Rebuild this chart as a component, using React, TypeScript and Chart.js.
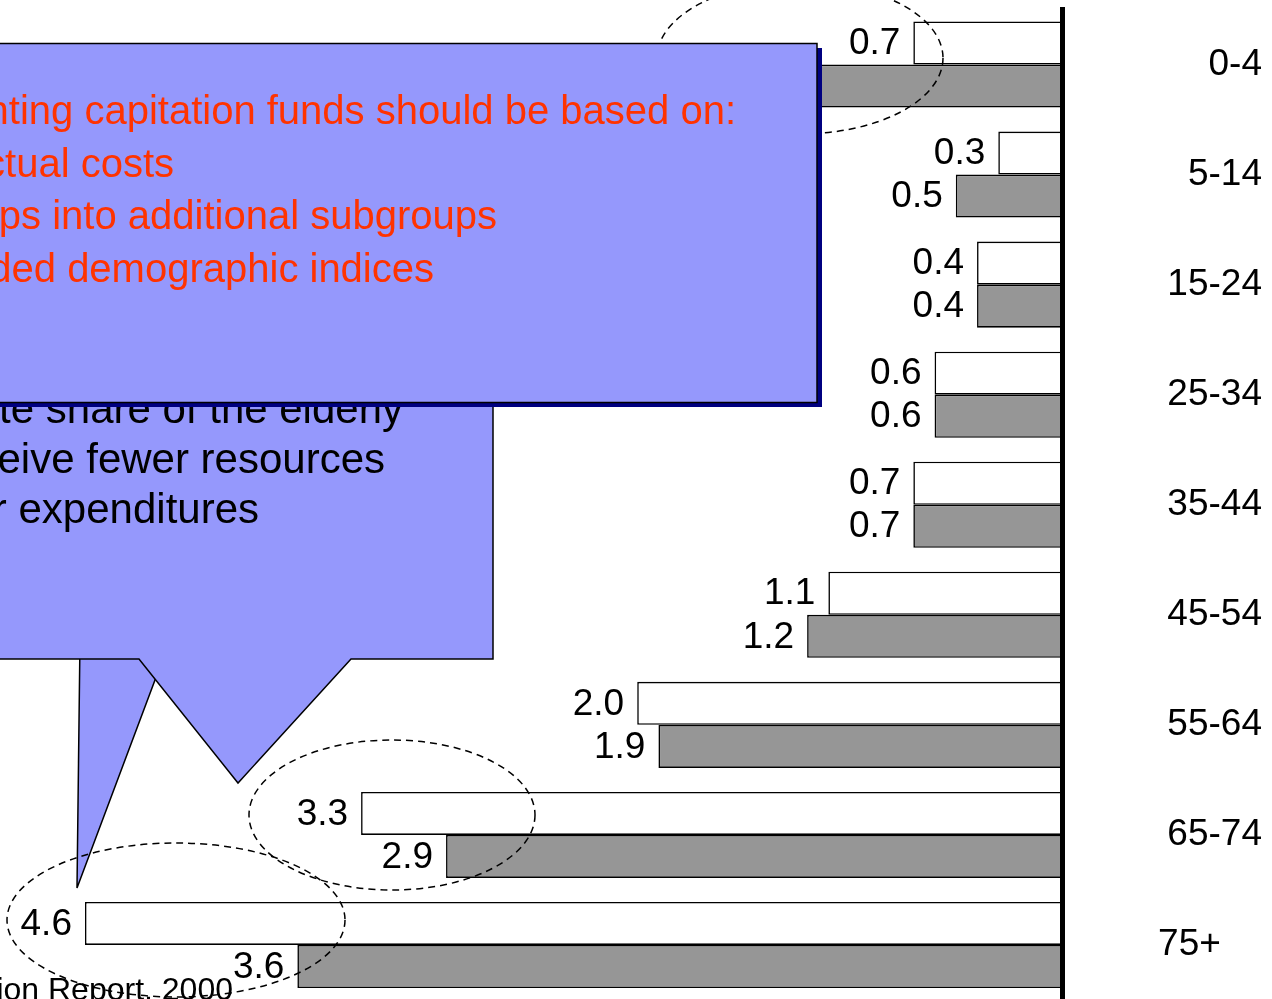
import React, { useEffect, useRef } from 'react';
import { Chart, registerables } from 'chart.js';

Chart.register(...registerables);

// ---- data ----
const categories = ['0-4', '5-14', '15-24', '25-34', '35-44', '45-54', '55-64', '65-74', '75+    '];
const populationShare = [0.7, 0.3, 0.4, 0.6, 0.7, 1.1, 2.0, 3.3, 4.6];
const expenditureShare = [1.4, 0.5, 0.4, 0.6, 0.7, 1.2, 1.9, 2.9, 3.6];
const valueMax = 5;

const redLines = [
  'Granting capitation funds should be based on:',
  '\u2022 actual costs',
  '\u2022 dividing age groups into additional subgroups',
  '\u2022 expanded demographic indices',
];
const blackLines = [
  'Regions with a disproportionate share of the elderly',
  'receive fewer resources',
  'relative to their expenditures',
];
const sourceText = 'Source: Health Insurance Fund Administration Report, 2000';

const FAMILY = "'Liberation Sans', Arial, sans-serif";
const LAV = '#9598FC';

const valueLabels = {
  id: 'valueLabels',
  afterDatasetsDraw(chart: any) {
    const ctx = chart.ctx;
    ctx.save();
    ctx.font = `37px ${FAMILY}`;
    ctx.fillStyle = '#000';
    ctx.textAlign = 'right';
    ctx.textBaseline = 'middle';
    chart.data.datasets.forEach((ds: any, di: number) => {
      const meta = chart.getDatasetMeta(di);
      meta.data.forEach((bar: any, i: number) => {
        ctx.fillText(Number(ds.data[i]).toFixed(1), bar.x - 13, bar.y + 1);
      });
    });
    ctx.restore();
  },
};

export default function App() {
  const ref = useRef<HTMLCanvasElement | null>(null);

  useEffect(() => {
    if (!ref.current) return;
    const axisWidth = 200;

    const chart = new Chart(ref.current, {
      type: 'bar',
      data: {
        labels: categories,
        datasets: [
          {
            data: populationShare,
            backgroundColor: '#ffffff',
            borderColor: '#000000',
            borderWidth: 1.6,
            categoryPercentage: 0.782,
            barPercentage: 1,
          },
          {
            data: expenditureShare,
            backgroundColor: '#969696',
            borderColor: '#000000',
            borderWidth: 1.6,
            categoryPercentage: 0.782,
            barPercentage: 1,
          },
        ],
      },
      options: {
        indexAxis: 'y',
        animation: false,
        responsive: false,
        layout: { padding: { left: 0, right: 10, top: 9.5, bottom: 10 } },
        plugins: { legend: { display: false }, tooltip: { enabled: false } },
        scales: {
          x: { type: 'linear', reverse: true, min: 0, max: valueMax, display: false },
          y: {
            type: 'category',
            position: 'right',
            offset: true,
            grid: { display: false, drawTicks: false, tickLength: 0 },
            border: { display: true, color: '#000', width: 5, z: 1 },
            ticks: {
              color: '#000',
              font: { family: FAMILY, size: 37 },
              crossAlign: 'far',
              padding: 0,
            },
            afterFit: (s: any) => {
              s.width = axisWidth;
              s.paddingTop = 0;
              s.paddingBottom = 0;
            },
          },
        },
      } as any,
      plugins: [valueLabels],
    });
    return () => chart.destroy();
  }, []);

  const textStyle = { fontFamily: FAMILY } as any;

  return (
    <div style={{ position: 'fixed', left: 0, top: 0, width: 1272, height: 999, overflow: 'hidden', background: '#fff' }}>
      <canvas ref={ref} width={1272} height={1010} style={{ position: 'absolute', left: 0, top: 0, display: 'block' }} />
      <svg width={1272} height={999} style={{ position: 'absolute', left: 0, top: 0 }}>
        {/* spike of second callout */}
        <polygon points="80,640 77,888 170,640" fill={LAV} stroke="#000" strokeWidth={1.5} />
        {/* second callout */}
        <path d="M -10 300 L 493 300 L 493 659 L 351 659 L 238 783 L 139 659 L -10 659 Z" fill={LAV} stroke="#000" strokeWidth={1.5} />
        {blackLines.map((t, i) => (
          <text key={i} x={[403, 385, 259][i]} y={423 + i * 50} textAnchor="end" fontSize={42} fill="#000" style={textStyle}>
            {t}
          </text>
        ))}
        {/* dashed ellipses */}
        <ellipse cx={392} cy={815} rx={143} ry={75} fill="none" stroke="#000" strokeWidth={1.5} strokeDasharray="7 5" />
        <ellipse cx={176} cy={920} rx={169} ry={77} fill="none" stroke="#000" strokeWidth={1.5} strokeDasharray="7 5" />
        <ellipse cx={800} cy={58} rx={143} ry={76} fill="none" stroke="#000" strokeWidth={1.5} strokeDasharray="7 5" />
        {/* top box */}
        <rect x={-5} y={48} width={827} height={359} fill="#000080" />
        <rect x={-10} y={43.5} width={827} height={359} fill={LAV} stroke="#000" strokeWidth={1.5} />
        {redLines.map((t, i) => (
          <text key={i} x={[736, 174, 497, 434][i]} y={124 + i * 52.7} textAnchor="end" fontSize={40} fill="#FF3300" style={textStyle}>
            {t}
          </text>
        ))}
        <text x={233} y={1000} textAnchor="end" fontSize={32} fill="#000" style={textStyle}>
          {sourceText}
        </text>
      </svg>
    </div>
  );
}
